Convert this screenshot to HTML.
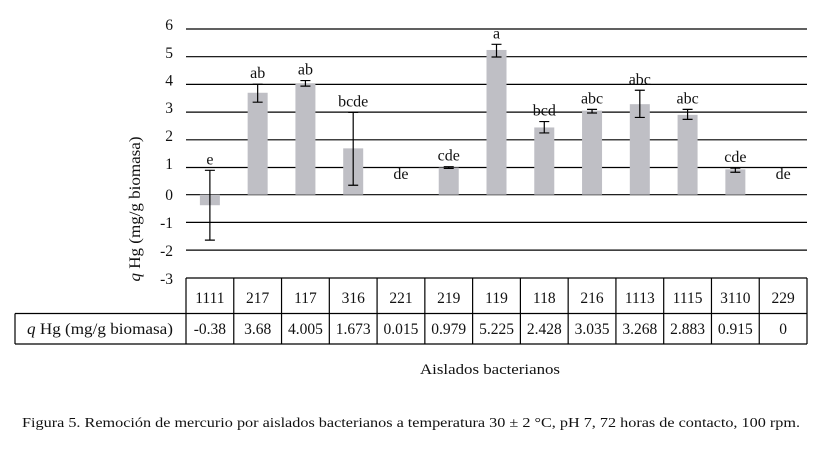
<!DOCTYPE html>
<html><head><meta charset="utf-8"><style>
body{margin:0;background:#fff;width:819px;height:447px;overflow:hidden}
svg text{font-family:"Liberation Serif",serif;fill:#111}
</style></head><body>
<svg width="819" height="447" xmlns="http://www.w3.org/2000/svg">
<g stroke="#000" stroke-width="1.2">
<line x1="186" y1="29" x2="807" y2="29"/>
<line x1="186" y1="56.7" x2="807" y2="56.7"/>
<line x1="186" y1="84.4" x2="807" y2="84.4"/>
<line x1="186" y1="112.1" x2="807" y2="112.1"/>
<line x1="186" y1="139.8" x2="807" y2="139.8"/>
<line x1="186" y1="167.5" x2="807" y2="167.5"/>
<line x1="186" y1="194.7" x2="807" y2="194.7"/>
<line x1="186" y1="222.4" x2="807" y2="222.4"/>
<line x1="186" y1="250.1" x2="807" y2="250.1"/>
</g>
<g font-size="15.5" text-anchor="end">
<text x="173" y="30">6</text><text x="173" y="58">5</text><text x="173" y="85.5">4</text>
<text x="173" y="113">3</text><text x="173" y="141">2</text><text x="173" y="169">1</text>
<text x="173" y="200">0</text><text x="173" y="228">-1</text><text x="173" y="256">-2</text>
<text x="173" y="284">-3</text>
</g>
<text transform="translate(140,209) rotate(-90)" font-size="16" text-anchor="middle" textLength="145" lengthAdjust="spacingAndGlyphs"><tspan font-style="italic">q</tspan> Hg (mg/g biomasa)</text>
<g id="bars"></g>
<g stroke="#000" stroke-width="1.2" fill="none">
<line x1="186" y1="278" x2="807" y2="278"/>
<line x1="15" y1="313.5" x2="807" y2="313.5"/>
<line x1="15" y1="344" x2="807" y2="344"/>
<line x1="15" y1="313.5" x2="15" y2="344"/>
<line x1="807" y1="278" x2="807" y2="344"/>
</g>
<g id="tbl" stroke="#000" stroke-width="1.2"></g>
<text x="27" y="334" font-size="15.5" textLength="146" lengthAdjust="spacingAndGlyphs"><tspan font-style="italic">q</tspan> Hg (mg/g biomasa)</text>
<text x="420" y="374" font-size="15" textLength="140" lengthAdjust="spacingAndGlyphs">Aislados bacterianos</text>
<text x="22" y="427" font-size="13.5" textLength="778" lengthAdjust="spacingAndGlyphs">Figura 5. Remoción de mercurio por aislados bacterianos a temperatura 30 ± 2 °C, pH 7, 72 horas de contacto, 100 rpm.</text>
</svg>
<script>
const d=[["1111",-0.38,"-0.38",0.88,-1.64,"e"],["217",3.68,"3.68",3.99,3.34,"ab"],["117",4.005,"4.005",4.12,3.92,"ab"],["316",1.673,"1.673",2.97,0.34,"bcde"],["221",0.015,"0.015",null,null,"de"],["219",0.979,"0.979",1.01,0.95,"cde"],["119",5.225,"5.225",5.43,4.97,"a"],["118",2.428,"2.428",2.64,2.23,"bcd"],["216",3.035,"3.035",3.08,2.95,"abc"],["1113",3.268,"3.268",3.77,2.79,"abc"],["1115",2.883,"2.883",3.08,2.72,"abc"],["3110",0.915,"0.915",0.96,0.81,"cde"],["229",0,"0",null,null,"de"]];
const ns="http://www.w3.org/2000/svg",b=document.getElementById("bars"),t=document.getElementById("tbl"),svg=document.querySelector("svg");
const Y=v=>194.7-v*27.7,W=47.77;
function el(p,n,a,tx){const e=document.createElementNS(ns,n);for(const k in a)e.setAttribute(k,a[k]);if(tx!==undefined)e.textContent=tx;p.appendChild(e);return e;}
d.forEach((r,i)=>{const cx=186+W*i+W/2;
if(r[1]!==0&&Math.abs(r[1])>0.02){const y0=Y(Math.max(r[1],0)),y1=Y(Math.min(r[1],0));el(b,"rect",{x:cx-10,y:y0,width:20,height:y1-y0,fill:"#bfbfc5"});}
let top;
if(r[3]!==null){const a=Y(r[3]),c=Y(r[4]);el(b,"path",{d:`M${cx} ${a}V${c}M${cx-5} ${a}H${cx+5}M${cx-5} ${c}H${cx+5}`,stroke:"#000","stroke-width":1.2,fill:"none"});top=a;}
else top=Y(0.35);
el(svg,"text",{x:cx,y:top-6,"font-size":16,"text-anchor":"middle"},r[5]);
el(t,"line",{x1:186+W*i,y1:278,x2:186+W*i,y2:344});
el(svg,"text",{x:cx,y:303,"font-size":15.5,"text-anchor":"middle"},r[0]);
el(svg,"text",{x:cx,y:334,"font-size":15.5,"text-anchor":"middle"},r[2]);
});
</script>
</body></html>
